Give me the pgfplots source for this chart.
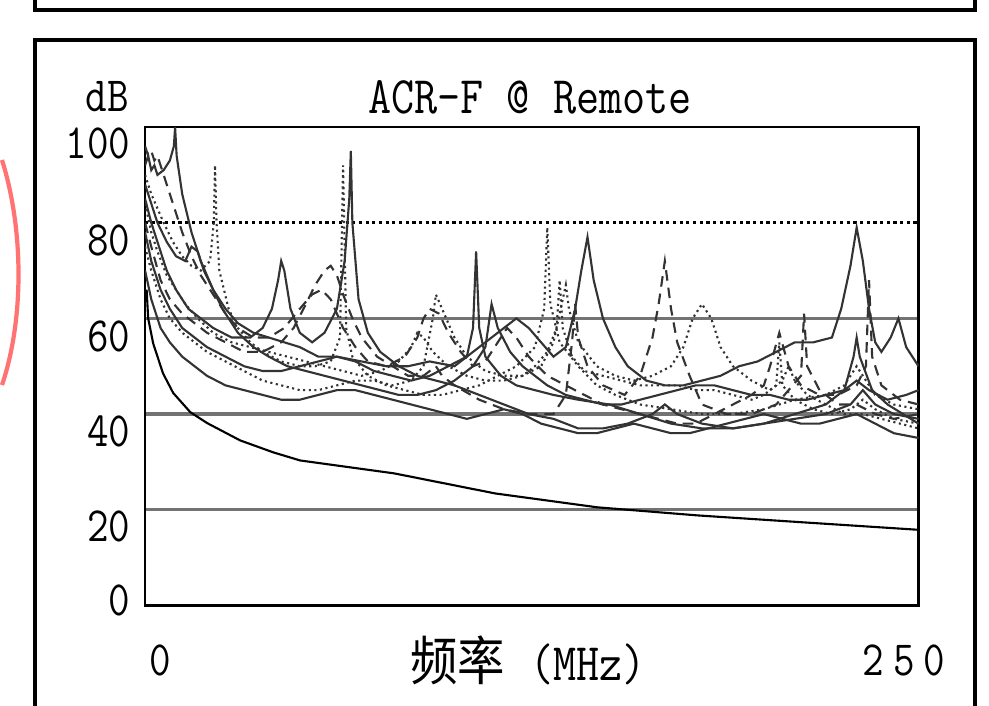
\documentclass[border=0pt]{standalone}
\usepackage{pgfplots}
\pgfplotsset{compat=1.18}
\usepackage{fontspec}
\newfontfamily\lab[FakeStretch=0.85]{Latin Modern Mono}
\newfontfamily\cjk[FakeStretch=0.9]{Noto Sans CJK SC}
\begin{document}
\begin{tikzpicture}
\begin{scope}[x=0.01cm,y=-0.01cm]
\path[use as bounding box] (0,0) rectangle (989,705);
\fill[white] (0,0) rectangle (989,705);
\draw[line width=1.1pt] (35,-2) -- (35,10) -- (975,10) -- (975,-2);
\draw[line width=0.9pt] (35,720) -- (35,40) -- (975,40) -- (975,720);
\draw[red!55!white, line width=1.2pt] (2,160) .. controls (24,230) and (24,320) .. (2,385);
\node[font=\lab\fontsize{14pt}{14pt}\selectfont] at (107,97) {dB};
\node[font=\lab\fontsize{15pt}{15pt}\selectfont] at (530,97) {ACR-F @ Remote};
\node[font=\lab\fontsize{14pt}{14pt}\selectfont, anchor=east, inner sep=0pt] at (131,143) {100};
\node[font=\lab\fontsize{14pt}{14pt}\selectfont, anchor=east, inner sep=0pt] at (131,240) {80};
\node[font=\lab\fontsize{14pt}{14pt}\selectfont, anchor=east, inner sep=0pt] at (131,336) {60};
\node[font=\lab\fontsize{14pt}{14pt}\selectfont, anchor=east, inner sep=0pt] at (131,431) {40};
\node[font=\lab\fontsize{14pt}{14pt}\selectfont, anchor=east, inner sep=0pt] at (131,526) {20};
\node[font=\lab\fontsize{14pt}{14pt}\selectfont, anchor=east, inner sep=0pt] at (131,600) {0};
\node[font=\lab\fontsize{14pt}{14pt}\selectfont] at (160,660) {0};
\node[font=\lab\fontsize{14pt}{14pt}\selectfont] at (904,660) {2\kern2.6pt 5\kern2.6pt 0};
\node[inner sep=0pt] at (528,660) {{\cjk\fontsize{15pt}{15pt}\selectfont 频率}\hspace{7pt}{\lab\fontsize{15pt}{15pt}\selectfont (MHz)}};
\end{scope}
\begin{axis}[at={(1.45cm,-6.05cm)}, anchor=south west,
  width=7.73cm, height=4.78cm, scale only axis,
  xmin=0, xmax=250, ymin=0, ymax=100,
  xtick=\empty, ytick={20,40,60}, yticklabels={},
  major tick length=0pt, ymajorgrids,
  grid style={black!55, line width=0.9pt},
  extra y ticks={80}, extra y tick labels={},
  extra y tick style={grid style={black, densely dotted, line width=0.8pt}},
  axis line style={line width=0.8pt},
  every axis plot/.append style={line width=0.6pt, black!80, mark=none}]
% limit line
\addplot[black, line width=0.6pt] coordinates {(0.5,66) (1,60) (2.6,54.8) (5.8,48.5) (9.1,44.4) (14.6,40.4) (20.1,38.1) (30.7,34.5) (41.4,32.0) (50.1,30.3) (80.5,27.6) (113.2,23.4) (146.2,20.5) (178.8,18.8) (211.8,17.4) (250,15.8)};
% C1
\addplot[solid] coordinates {(0,92) (1,94) (2,91) (3,92) (4,90) (6,91) (8,93) (9.3,96) (9.7,100) (10.2,94) (12,86) (15,78) (18,72) (22,66) (26,62) (30,59) (35,57) (40,56) (45,55) (50,54) (56,52) (62,52) (70,51) (78,50) (85,50) (92,51) (100,50) (104,52) (106,58) (107,74) (108,58) (110,52) (115,48) (120,46) (126,45) (132,44) (140,43) (150,42) (160,40) (170,38) (180,37) (190,37) (200,38) (210,39) (220,40) (228,42) (232,45) (236,42) (242,40) (250,39)};
% C2
\addplot[densely dotted] coordinates {(0,90) (2,86) (4,83) (6,80) (9,76) (12,73) (15,71) (18,70) (21,72) (22.2,80) (22.6,92) (23.1,80) (24,70) (27,62) (30,58) (34,55) (38,53) (44,51) (50,50) (55,50) (60,51) (63,56) (64,92) (65,58) (67,52) (72,48) (78,46) (84,45) (90,44) (96,44) (102,45) (108,46) (114,48) (120,50) (126,54) (129,62) (130,79) (131,63) (134,55) (140,50) (146,46) (152,44) (160,42) (170,41) (180,40) (190,40) (200,41) (210,43) (220,44) (226,46) (230,50) (232,48) (236,44) (242,42) (250,41)};
% C3
\addplot[solid] coordinates {(0,85) (2,80) (4,76) (7,70) (10,66) (14,62) (18,60) (22,58) (28,56) (34,56) (38,58) (41,62) (43,68) (44,72) (45,70) (47,62) (50,57) (54,55) (58,57) (62,62) (64.5,72) (66,85) (66.5,95) (67,80) (69,64) (72,57) (76,53) (82,50) (88,48) (94,47) (100,46) (108,44) (116,42) (124,40) (132,39) (140,37) (148,37) (156,38) (164,40) (168,42) (172,40) (180,38) (190,37) (200,38) (210,40) (220,42) (226,45) (229,52) (230,56) (231,52) (235,45) (240,42) (245,40) (250,38)};
% C4
\addplot[densely dashed] coordinates {(0,80) (2,75) (5,68) (8,64) (12,61) (16,59) (20,57) (26,55) (32,53) (38,53) (44,55) (48,58) (52,63) (55,67) (58,70) (60,71) (62,69) (64,65) (67,60) (70,56) (75,52) (80,50) (85,48) (90,48) (94,50) (96,48) (100,46) (108,43) (116,41) (124,40) (132,40) (136,44) (138,55) (139,63) (140,56) (143,50) (148,46) (155,44) (160,48) (164,56) (166,63) (168,72) (170,62) (172,55) (176,48) (180,42) (188,40) (196,40) (204,42) (208,45) (212,48) (213,61) (214,50) (218,45) (224,42) (230,42) (236,40) (242,39) (250,40)};
% C5
\addplot[solid] coordinates {(0,78) (2,72) (5,66) (8,62) (12,58) (16,56) (20,54) (26,52) (32,50) (38,49) (44,49) (50,50) (56,51) (62,52) (68,51) (74,49) (80,48) (86,47) (92,48) (98,50) (104,52) (110,55) (116,58) (120,60) (124,58) (128,55) (132,52) (136,54) (139,62) (141,70) (143,77) (145,68) (148,60) (152,54) (156,50) (162,47) (168,46) (174,46) (180,47) (186,48) (192,50) (198,51) (204,53) (210,55) (216,55) (222,56) (225,62) (228,71) (230,79) (232,72) (234,62) (236,55) (238,53) (241,56) (243.5,60) (246,54) (250,50)};
% C6
\addplot[densely dotted] coordinates {(0,75) (2,70) (5,64) (8,60) (12,57) (16,55) (20,53) (26,51) (32,49) (38,47) (44,46) (50,45) (56,45) (62,46) (68,47) (74,47) (80,46) (86,47) (90,50) (93,60) (94,65) (96,62) (100,56) (104,52) (110,49) (116,48) (122,48) (128,50) (132,55) (135,64) (136,67) (137,62) (140,55) (146,50) (152,48) (158,47) (164,48) (170,50) (174,54) (177,60) (180,63) (183,60) (186,54) (190,50) (196,47) (202,45) (206,47) (208,50) (210,47) (214,44) (220,42) (226,40) (232,40) (238,39) (244,38) (250,37)};
% C7
\addplot[solid] coordinates {(0,70) (2,64) (5,58) (8,55) (12,52) (16,50) (20,48) (26,46) (32,45) (38,44) (44,43) (50,43) (56,44) (62,45) (68,45) (74,44) (80,43) (86,42) (92,41) (98,40) (104,39) (110,40) (116,41) (122,40) (128,38) (134,37) (140,36) (146,36) (152,37) (158,38) (164,37) (170,36) (176,36) (182,37) (188,38) (194,39) (200,40) (206,39) (212,38) (218,38) (224,39) (230,40) (236,38) (242,36) (250,35)};
% C8
\addplot[densely dashed] coordinates {(0,96) (1,94) (2,95) (3,93) (4,94) (6,90) (8,86) (10,82) (12,78) (15,73) (18,69) (22,65) (26,61) (30,58) (35,56) (40,56) (45,58) (50,62) (54,65) (57,66) (60,64) (64,58) (68,54) (72,51) (78,50) (84,52) (88,56) (90,60) (92,62) (95,61) (98,57) (102,53) (106,50) (110,51) (114,55) (117,58) (120,56) (124,52) (130,48) (136,46) (142,44) (148,42) (154,41) (160,40) (166,39) (172,38) (178,38) (184,40) (190,42) (196,44) (200,46) (202,50) (205,57) (208,50) (212,46) (218,44) (224,44) (230,46) (233,50) (234,68) (235,52) (238,46) (244,43) (250,42)};
% C9
\addplot[solid] coordinates {(0,88) (2,84) (4,80) (7,76) (10,73) (13,72) (15,75) (17,74) (19,70) (22,66) (25,62) (30,57) (35,54) (40,52) (46,50) (52,49) (58,48) (64,47) (70,46) (76,45) (82,44) (88,44) (94,45) (100,47) (106,50) (110,54) (112,63) (114,58) (118,53) (122,50) (126,48) (130,46) (136,44) (142,43) (148,42) (154,42) (160,43) (166,44) (172,45) (178,46) (184,46) (190,45) (196,44) (202,44) (208,43) (214,43) (220,44) (226,45) (230,47) (234,45) (240,43) (246,44) (250,45)};
% C10
\addplot[densely dotted] coordinates {(0,84) (2,78) (4,74) (7,69) (10,66) (13,63) (17,60) (22,57) (28,55) (34,54) (40,53) (46,52) (52,51) (58,50) (64,49) (70,48) (76,49) (82,51) (86,54) (88,57) (90,56) (93,53) (98,50) (104,48) (110,47) (116,47) (122,48) (126,50) (130,53) (133,58) (134,68) (135,58) (138,52) (142,49) (148,48) (154,47) (160,46) (166,46) (172,46) (178,45) (184,45) (190,44) (196,43) (200,44) (204,46) (205,55) (206,46) (210,43) (216,41) (222,40) (228,41) (232,43) (236,41) (242,39) (250,38)};
\end{axis}
\end{tikzpicture}
\end{document}
